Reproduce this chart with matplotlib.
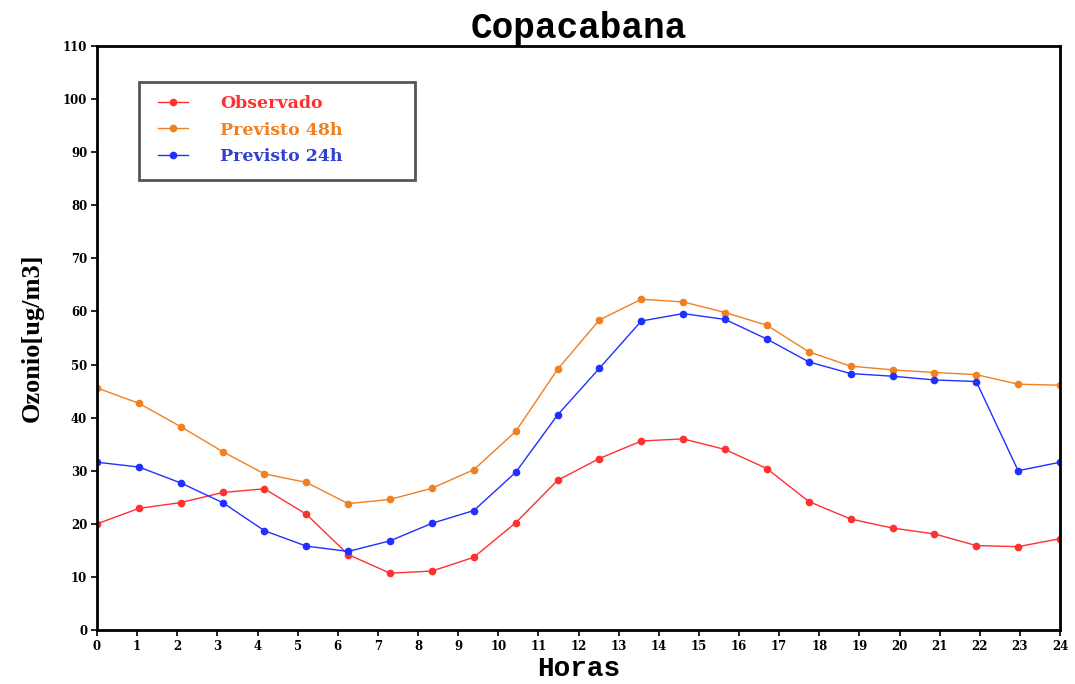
import numpy as np
import matplotlib.pyplot as plt
from matplotlib.patches import Rectangle

# valores horarios de ozono (24 pontos entre 0h e 24h)
observado = [20.0, 22.9, 24.0, 25.9, 26.6, 21.8, 14.2, 10.7, 11.1, 13.7, 20.2, 28.2,
             32.3, 35.6, 36.0, 34.0, 30.4, 24.2, 20.9, 19.2, 18.1, 15.9, 15.7, 17.2]
previsto_48h = [45.6, 42.7, 38.3, 33.6, 29.4, 27.8, 23.8, 24.6, 26.7, 30.2, 37.4, 49.1,
                58.4, 62.3, 61.8, 59.8, 57.4, 52.4, 49.7, 49.0, 48.5, 48.1, 46.3, 46.1]
previsto_24h = [31.6, 30.7, 27.7, 24.0, 18.7, 15.8, 14.8, 16.8, 20.1, 22.5, 29.7, 40.5,
                49.3, 58.2, 59.6, 58.5, 54.8, 50.5, 48.3, 47.8, 47.1, 46.8, 30.0, 31.6]
horas = np.linspace(0, 24, len(observado))

W, H = 1075, 684
x0, x1, y0, y1 = 97, 1060, 46, 630  # caixa do grafico em pixels
fig = plt.figure(figsize=(W / 100, H / 100), dpi=100)
ax = fig.add_axes([x0 / W, 1 - y1 / H, (x1 - x0) / W, (y1 - y0) / H])

ax.plot(horas, observado, color='#ff3030', lw=1.0, marker='o', ms=4.5, label='Observado')
ax.plot(horas, previsto_48h, color='#f08020', lw=1.0, marker='o', ms=4.5, label='Previsto 48h')
ax.plot(horas, previsto_24h, color='#2030ff', lw=1.0, marker='o', ms=4.5, label='Previsto 24h')

ax.set_xlim(0, 24)
ax.set_ylim(0, 110)
ax.set_xticks(range(0, 25))
ax.set_yticks(range(0, 111, 10))
for lab in ax.get_xticklabels() + ax.get_yticklabels():
    lab.set_family('DejaVu Serif')
    lab.set_fontsize(8.5)
    lab.set_fontweight('bold')
ax.tick_params(direction='out', length=4, width=1.2, pad=3)
for s in ax.spines.values():
    s.set_linewidth(2)

ax.set_title('Copacabana', family='Liberation Mono', fontweight='bold', fontsize=26, pad=4)
ax.set_xlabel('Horas', family='Liberation Mono', fontweight='bold', fontsize=20, labelpad=2)
ax.set_ylabel('Ozonio[ug/m3]', family='Liberation Serif', fontweight='bold', fontsize=19,
              labelpad=14)

# legenda sem moldura + retangulo desenhado a mao
lw_ = (x1 - x0)
lh_ = (y1 - y0)
leg = ax.legend(loc='upper left', bbox_to_anchor=((158 - x0) / lw_, 1 - (95 - y0) / lh_),
                frameon=False, borderaxespad=0, borderpad=0,
                handlelength=1.7, handletextpad=1.9, labelspacing=0.55,
                prop={'family': 'DejaVu Serif', 'weight': 'bold', 'size': 12.5})
for txt, c in zip(leg.get_texts(), ['#ff3030', '#f08020', '#3040d0']):
    txt.set_color(c)
ax.add_patch(Rectangle(((139 - x0) / lw_, 1 - (180 - y0) / lh_), (415 - 139) / lw_,
                       (180 - 82) / lh_, transform=ax.transAxes, fill=False,
                       edgecolor='#555555', lw=2, zorder=5))

plt.savefig('out.png')
